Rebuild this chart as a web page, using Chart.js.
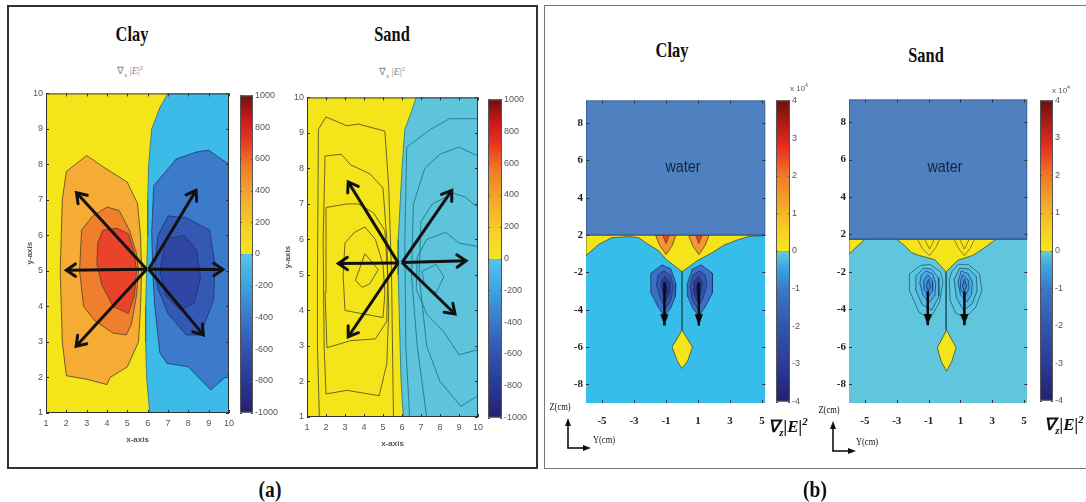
<!DOCTYPE html>
<html>
<head>
<meta charset="utf-8">
<script src="https://cdn.jsdelivr.net/npm/chart.js@4.4.0/dist/chart.umd.min.js"></script>
<style>
html, body { margin: 0; padding: 0; background: #fff; }
#page { position: relative; width: 1086px; height: 502px; overflow: hidden; font-family: 'Liberation Serif', serif; }
canvas { position: absolute; }
.t { position: absolute; transform: translate(-50%, -50%); white-space: nowrap; line-height: 1; }
.title { font-weight: bold; font-size: 21px; color: #111; transform: translate(-50%, -50%) scaleX(.78); }
.sub { font-size: 10px; color: #888; }
.lab { font-weight: bold; font-size: 23px; color: #111; transform: translate(-50%, -50%) scaleX(.85); }
.water { font-family: 'Liberation Sans', sans-serif; font-size: 16px; color: #17243d; transform: translate(-50%, -50%) scaleX(.9); }
.exp { font-family: 'Liberation Sans Narrow', 'Liberation Sans', sans-serif; font-size: 8px; color: #555; }
.grad { font-weight: bold; font-style: italic; font-size: 17px; color: #111; }
.ax { font-size: 10px; color: #111; transform: translate(-50%, -50%) scaleX(.85); }
.box { position: absolute; box-sizing: border-box; }
sub, sup { font-size: 65%; }
svg { position: absolute; }
</style>
</head>
<body>
<div id="page">
  <div class="box" style="left:7px;top:5px;width:531px;height:464px;border:2px solid #333;"></div>
  <div class="box" style="left:544px;top:5px;width:560px;height:464px;border:1px solid #777;"></div>

  <div class="t title" style="left:132px;top:34px;">Clay</div>
  <div class="t sub" style="left:130px;top:72px;">&nabla;<sub>x</sub> |<i>E</i>|<sup>2</sup></div>
  <div class="t title" style="left:392px;top:34px;">Sand</div>
  <div class="t sub" style="left:392px;top:73px;">&nabla;<sub>x</sub> |<i>E</i>|<sup>2</sup></div>

  <div class="t title" style="left:672px;top:50px;">Clay</div>
  <div class="t title" style="left:926px;top:55px;">Sand</div>

  <canvas id="clayA" width="229" height="360" style="left:10px;top:85px;"></canvas>
  <canvas id="clayAbar" width="50" height="332" style="left:240px;top:88px;"></canvas>
  <canvas id="sandA" width="217" height="360" style="left:271px;top:89px;"></canvas>
  <canvas id="sandAbar" width="50" height="333" style="left:488px;top:92px;"></canvas>
  <canvas id="clayB" width="217" height="342" style="left:560px;top:91px;"></canvas>
  <canvas id="clayBbar" width="36" height="316" style="left:776px;top:93px;"></canvas>
  <canvas id="sandB" width="216" height="343" style="left:823px;top:90px;"></canvas>
  <canvas id="sandBbar" width="40" height="315" style="left:1040px;top:93px;"></canvas>

  <div class="t water" style="left:683px;top:167px;">water</div>
  <div class="t water" style="left:945px;top:167px;">water</div>

  <div class="t exp" style="left:799px;top:88px;">x 10<sup>4</sup></div>
  <div class="t exp" style="left:1061px;top:90px;">x 10<sup>4</sup></div>
  <div class="t grad" style="left:788px;top:427px;">&nabla;<sub>z</sub>|E|<sup>2</sup></div>
  <div class="t grad" style="left:1064px;top:425px;">&nabla;<sub>z</sub>|E|<sup>2</sup></div>

  <div class="t ax" style="left:560px;top:407px;">Z(cm)</div>
  <div class="t ax" style="left:604px;top:440px;">Y(cm)</div>
  <svg style="left:560px;top:415px;" width="40" height="40">
    <line x1="8" y1="9" x2="8" y2="33" stroke="#111" stroke-width="1.6"/>
    <polygon points="8,3 5,11 11,11" fill="#111"/>
    <line x1="7.2" y1="33" x2="25" y2="33" stroke="#111" stroke-width="1.6"/>
    <polygon points="31,33 23,30 23,36" fill="#111"/>
  </svg>
  <div class="t ax" style="left:829px;top:410px;">Z(cm)</div>
  <div class="t ax" style="left:867px;top:442px;">Y(cm)</div>
  <svg style="left:825px;top:418px;" width="40" height="40">
    <line x1="8" y1="9" x2="8" y2="33" stroke="#111" stroke-width="1.6"/>
    <polygon points="8,3 5,11 11,11" fill="#111"/>
    <line x1="7.2" y1="33" x2="25" y2="33" stroke="#111" stroke-width="1.6"/>
    <polygon points="31,33 23,30 23,36" fill="#111"/>
  </svg>

  <div class="t lab" style="left:270px;top:489px;">(a)</div>
  <div class="t lab" style="left:815px;top:489px;">(b)</div>
</div>

<script>
// ---------------- data ----------------
// panel (a) axes
const ticksA = [1, 2, 3, 4, 5, 6, 7, 8, 9, 10];
const colorbarTicksA = [1000, 800, 600, 400, 200, 0, -200, -400, -600, -800, -1000];

// panel (b) axes
const xTicksB = [-5, -3, -1, 1, 3, 5];
const yTickValuesB = [-8, -6, -4, -2, 0, 2, 4, 6];
const yTickLabelsB = ['-8', '-6', '-4', '-2', '2', '4', '6', '8'];
const colorbarTicksB = [4, 3, 2, 1, 0, -1, -2, -3, -4];

// Clay (a) contour levels, [x, y]
const clayA_all = [[1, 1], [10, 1], [10, 10], [1, 10]];
const clayA_neg0 = [[7.0, 10], [6.6, 9.6], [6.2, 9.0], [6.05, 8.0], [6.0, 7.0], [6.0, 6.0], [5.95, 5.0], [5.9, 4.0], [5.9, 3.0], [5.95, 2.0], [6.1, 1.0], [10, 1], [10, 10]];
const clayA_pos200 = [[3.0, 8.25], [3.9, 7.9], [5.0, 7.5], [5.5, 6.9], [5.65, 6.0], [5.7, 5.0], [5.65, 4.0], [5.55, 3.0], [5.0, 2.3], [4.15, 2.0], [4.0, 1.8], [3.0, 1.95], [2.0, 2.05], [1.8, 3.0], [1.7, 5.0], [1.8, 7.0], [2.0, 7.8]];
const clayA_pos400 = [[3.3, 6.55], [4.0, 6.8], [4.6, 6.7], [5.1, 6.15], [5.45, 5.5], [5.55, 5.0], [5.45, 4.3], [5.2, 3.5], [4.95, 3.2], [4.3, 3.25], [3.4, 3.6], [2.85, 4.0], [2.65, 5.0], [2.75, 6.15]];
const clayA_pos600 = [[3.8, 6.15], [4.5, 6.2], [5.05, 6.05], [5.35, 5.5], [5.45, 5.0], [5.35, 4.3], [5.05, 3.8], [4.3, 4.0], [3.75, 4.6], [3.5, 5.2], [3.55, 5.8]];
const clayA_neg200 = [[6.3, 7.4], [7.4, 8.15], [8.4, 8.35], [9.0, 8.4], [10, 8.0], [10, 2.1], [9.1, 1.65], [8.0, 2.3], [6.95, 2.4], [6.6, 2.7], [6.35, 4.0], [6.25, 5.0], [6.2, 6.1]];
const clayA_neg400 = [[7.0, 6.55], [7.9, 6.5], [9.05, 6.15], [9.3, 5.2], [9.25, 4.2], [8.6, 3.2], [7.9, 3.2], [7.0, 3.8], [6.5, 4.5], [6.35, 5.1], [6.5, 6.0]];
const clayA_neg600 = [[6.9, 5.9], [7.8, 6.0], [8.4, 5.6], [8.6, 4.8], [8.3, 4.1], [7.6, 3.9], [6.9, 4.3], [6.6, 5.0]];
const clayA_arrows = [
  [[5.95, 5.05], [2.0, 5.02]], [[5.95, 5.05], [2.5, 7.2]], [[5.95, 5.05], [2.48, 2.88]],
  [[6.05, 5.05], [9.7, 5.04]], [[6.05, 5.05], [8.38, 7.27]], [[6.05, 5.05], [8.74, 3.2]]
];

// Sand (a) contour lines, [x, y]
const sandA_all = [[1, 1], [10, 1], [10, 10], [1, 10]];
const sandA_neg0 = [[6.75, 10], [6.5, 9.6], [6.15, 9.1], [6.0, 8.0], [5.9, 7.0], [5.8, 6.0], [5.8, 5.0], [5.85, 4.0], [5.9, 3.0], [5.95, 2.0], [6.07, 1.0], [10, 1], [10, 10]];
const sandA_posLine1 = [[1.65, 1.0], [1.55, 3.0], [1.55, 5.0], [1.6, 9.1], [2.0, 9.45], [3.1, 9.2], [3.7, 9.25], [5.1, 9.05], [5.3, 7.5], [5.45, 5.0], [5.5, 3.0], [5.55, 1.0]];
const sandA_posLine2 = [[1.95, 8.35], [2.8, 8.4], [3.3, 8.1], [4.3, 7.85], [5.0, 7.45], [5.2, 6.0], [5.3, 4.0], [5.2, 2.5], [4.8, 1.6], [3.1, 1.75], [2.0, 1.65], [1.9, 3.0], [1.85, 6.0], [1.95, 8.35]];
const sandA_posLine3 = [[2.0, 6.9], [3.1, 7.0], [3.7, 7.0], [4.5, 6.75], [5.1, 6.25], [5.25, 5.0], [5.2, 3.7], [4.6, 3.2], [3.3, 3.15], [2.05, 2.95], [1.95, 4.5], [2.0, 6.9]];
const sandA_posLine4 = [[3.0, 5.9], [3.5, 6.2], [4.05, 6.35], [4.6, 6.0], [5.0, 5.3], [5.1, 4.5], [5.0, 3.8], [4.0, 3.9], [3.0, 4.0], [2.9, 5.0], [3.0, 5.9]];
const sandA_posLine5 = [[3.55, 4.85], [4.05, 5.6], [4.75, 5.15], [4.3, 4.75], [3.9, 4.65], [3.55, 4.85]];
const sandA_negLine1 = [[6.4, 1.0], [6.2, 3.0], [6.15, 6.0], [6.25, 8.6], [7.5, 9.1], [8.5, 9.4], [10, 9.4]];
const sandA_negLine2 = [[7.3, 1.0], [6.8, 3.0], [6.5, 5.0], [6.6, 7.0], [7.2, 8.0], [8.0, 8.4], [9.0, 8.6], [10, 8.35]];
const sandA_negLine3 = [[10, 1.6], [9.1, 1.3], [8.0, 2.0], [7.3, 3.0], [6.9, 5.0], [7.0, 6.5], [7.6, 7.0], [8.7, 7.3], [9.3, 7.2], [10, 6.9]];
const sandA_negLine4 = [[10, 2.9], [9.0, 2.75], [8.2, 3.4], [7.3, 3.9], [6.75, 4.6], [6.8, 5.5], [7.3, 6.0], [8.3, 6.2], [9.0, 5.9], [10, 5.8]];
const sandA_negLine5 = [[7.05, 5.1], [7.8, 5.3], [8.2, 4.95], [7.8, 4.5], [7.2, 4.7], [7.05, 5.1]];
const sandA_arrows = [
  [[5.8, 5.34], [2.65, 5.32]], [[5.8, 5.34], [3.17, 7.62]], [[5.8, 5.34], [3.17, 3.26]],
  [[6.0, 5.35], [9.37, 5.4]], [[6.0, 5.35], [8.62, 7.38]], [[6.0, 5.35], [8.79, 3.9]]
];

// Clay (b) regions, [y, z]
const clayB_soil = [[-6, -9], [5.2, -9], [5.2, 0], [-6, 0]];
const clayB_pos0 = [[-6, 0], [5.2, 0], [5.2, -0.03], [4.2, -0.08], [3.5, -0.25], [2.6, -0.55], [1.86, -0.96], [1.0, -1.35], [0, -1.97], [-1.0, -1.3], [-1.45, -0.85], [-2.2, -0.45], [-2.7, -0.15], [-3.3, -0.08], [-4.4, -0.15], [-5.2, -0.5], [-6, -1.1]];
const clayB_pos1L = [[-1.65, -0.02], [-0.4, -0.02], [-0.6, -0.55], [-1.0, -1.05], [-1.4, -0.55]];
const clayB_pos2L = [[-1.2, -0.02], [-0.8, -0.02], [-1.0, -0.45]];
const clayB_pos1R = [[0.42, -0.02], [1.68, -0.02], [1.45, -0.55], [1.05, -1.05], [0.65, -0.55]];
const clayB_pos2R = [[0.85, -0.02], [1.25, -0.02], [1.05, -0.45]];
const clayB_neg1L = [[-1.25, -1.6], [-0.7, -1.82], [-0.38, -2.6], [-0.42, -3.3], [-0.7, -3.9], [-1.1, -4.35], [-1.5, -3.85], [-1.95, -3.1], [-1.95, -2.05]];
const clayB_neg2L = [[-1.15, -1.92], [-0.72, -2.15], [-0.55, -2.75], [-0.68, -3.45], [-1.02, -3.95], [-1.35, -3.4], [-1.6, -2.7], [-1.5, -2.15]];
const clayB_neg3L = [[-1.08, -2.2], [-0.8, -2.5], [-0.76, -3.1], [-1.0, -3.55], [-1.25, -3.05], [-1.32, -2.55]];
const clayB_neg4L = [[-1.02, -2.45], [-0.9, -2.95], [-1.02, -3.35], [-1.14, -2.95]];
const clayB_neg1R = [[1.2, -1.6], [1.9, -2.05], [1.9, -3.1], [1.45, -3.85], [1.05, -4.35], [0.65, -3.9], [0.37, -3.3], [0.33, -2.6], [0.65, -1.82]];
const clayB_neg2R = [[1.1, -1.92], [1.45, -2.15], [1.55, -2.7], [1.3, -3.4], [0.97, -3.95], [0.63, -3.45], [0.5, -2.75], [0.67, -2.15]];
const clayB_neg3R = [[1.03, -2.2], [1.27, -2.55], [1.2, -3.05], [0.95, -3.55], [0.71, -3.1], [0.75, -2.5]];
const clayB_neg4R = [[0.97, -2.45], [1.09, -2.95], [0.97, -3.35], [0.85, -2.95]];
const clayB_stem = [[0, -1.97], [0, -5.1]];
const clayB_diamond = [[0, -5.1], [0.65, -6.0], [0.35, -6.75], [0, -7.15], [-0.3, -6.75], [-0.62, -6.0]];
const clayB_water = [[-6, 0], [5.2, 0], [5.2, 7.2], [-6, 7.2]];
const clayB_arrows = [[[-1.1, -2.55], [-1.1, -4.85]], [[1.05, -2.55], [1.05, -4.85]]];

// Sand (b) regions, [y, z]
const sandB_soil = [[-6, -9], [5.2, -9], [5.2, 0], [-6, 0]];
const sandB_pos0Edge = [[-6, -0.25], [-5.0, -0.25], [-5.5, -0.65], [-6, -1.05]];
const sandB_pos0 = [[-3.0, -0.25], [3.25, -0.25], [2.4, -0.78], [1.77, -1.12], [0.83, -1.38], [0.1, -2.0], [-0.6, -1.35], [-1.56, -1.13], [-2.08, -0.96], [-2.5, -0.6]];
const sandB_posLine1L = [[-1.7, -0.25], [-1.4, -0.75], [-0.94, -1.13], [-0.55, -0.7], [-0.3, -0.25]];
const sandB_posLine2L = [[-1.25, -0.25], [-0.94, -0.78], [-0.63, -0.25]];
const sandB_posLine1R = [[0.6, -0.25], [0.85, -0.7], [1.25, -1.13], [1.6, -0.75], [1.9, -0.25]];
const sandB_posLine2R = [[0.95, -0.25], [1.25, -0.78], [1.55, -0.25]];
const sandB_neg1L = [[-1.5, -1.65], [-0.9, -1.6], [-0.25, -2.0], [-0.1, -2.5], [-0.3, -3.6], [-0.9, -4.5], [-1.6, -4.15], [-2.2, -3.0], [-2.2, -2.1]];
const sandB_neg2L = [[-1.3, -1.8], [-0.8, -1.85], [-0.4, -2.3], [-0.35, -3.3], [-0.8, -4.05], [-1.4, -3.75], [-1.85, -2.9], [-1.8, -2.2]];
const sandB_neg3L = [[-1.15, -1.95], [-0.75, -2.1], [-0.55, -2.6], [-0.6, -3.25], [-0.95, -3.65], [-1.35, -3.25], [-1.55, -2.6], [-1.45, -2.15]];
const sandB_neg4L = [[-1.05, -2.15], [-0.75, -2.5], [-0.75, -3.0], [-1.0, -3.3], [-1.3, -2.9], [-1.3, -2.45]];
const sandB_neg5L = [[-1.0, -2.4], [-0.88, -2.75], [-1.0, -3.05], [-1.15, -2.75]];
const sandB_neg1R = [[0.85, -1.6], [1.5, -1.6], [2.2, -2.1], [2.35, -3.0], [1.95, -3.9], [1.3, -4.45], [0.7, -4.2], [0.35, -3.5], [0.3, -2.4], [0.45, -2.0]];
const sandB_neg2R = [[0.95, -1.8], [1.55, -1.85], [2.0, -2.25], [2.05, -3.0], [1.75, -3.7], [1.2, -4.05], [0.75, -3.4], [0.6, -2.4]];
const sandB_neg3R = [[1.05, -1.95], [1.5, -2.1], [1.75, -2.55], [1.7, -3.2], [1.4, -3.6], [1.0, -3.2], [0.85, -2.55]];
const sandB_neg4R = [[1.15, -2.15], [1.5, -2.45], [1.55, -2.9], [1.3, -3.3], [1.0, -2.95], [1.0, -2.45]];
const sandB_neg5R = [[1.25, -2.4], [1.4, -2.75], [1.25, -3.05], [1.12, -2.75]];
const sandB_stem = [[0.1, -2.0], [0.1, -5.1]];
const sandB_diamond = [[0.13, -5.1], [0.73, -6.05], [0.45, -6.8], [0.13, -7.3], [-0.2, -6.8], [-0.45, -6.05]];
const sandB_water = [[-6, -0.25], [5.2, -0.25], [5.2, 7.2], [-6, 7.2]];
const sandB_arrows = [[[-1.05, -3.05], [-1.05, -4.85]], [[1.25, -3.05], [1.25, -4.85]]];

// ---------------- styles ----------------
const cmapA = [[0, '#261f6e'], [0.1, '#2b3898'], [0.2, '#3053b0'], [0.3, '#3a78cc'], [0.4, '#3ca2e2'], [0.5, '#55c6ea'],
  [0.5, '#f5e61c'], [0.58, '#f6d224'], [0.68, '#f5a82e'], [0.78, '#f07a28'], [0.86, '#e8361e'], [0.93, '#c81818'], [1, '#6e1010']];
const cmapB = [[0, '#24206e'], [0.12, '#2d3a98'], [0.25, '#3256ae'], [0.37, '#3a78c8'], [0.45, '#3ca8e2'], [0.49, '#62c6d6'], [0.5, '#68c9d4'],
  [0.5, '#f5e71c'], [0.57, '#f7d022'], [0.65, '#f5a82c'], [0.75, '#f07a26'], [0.85, '#e82a1e'], [1, '#6a1010']];

const tickFontA = { family: "'Liberation Sans Narrow', 'Liberation Sans', sans-serif", size: 9 };
const tickFontB = { family: "'Liberation Serif', serif", size: 11, weight: 'bold' };
const noGrid = { display: false, drawTicks: false, tickLength: 0 };

// ---------------- plugins ----------------
const framePlugin = {
  id: 'frame',
  afterDatasetsDraw(chart, args, opts) {
    const { ctx, chartArea: a } = chart;
    ctx.save();
    ctx.strokeStyle = opts.color || '#333';
    if (opts.width) {
      ctx.lineWidth = opts.width;
      ctx.strokeRect(a.left + 0.5, a.top + 0.5, a.right - a.left - 1, a.bottom - a.top - 1);
    }
    ctx.lineWidth = 1;
    const len = opts.tickLen || 3;
    ctx.beginPath();
    if (opts.xTicks) {
      chart.scales.x.ticks.forEach(t => {
        const px = Math.round(chart.scales.x.getPixelForValue(t.value)) + 0.5;
        ctx.moveTo(px, a.bottom); ctx.lineTo(px, a.bottom - len);
        ctx.moveTo(px, a.top); ctx.lineTo(px, a.top + len);
      });
    }
    if (opts.yTicks) {
      chart.scales.y.ticks.forEach(t => {
        const py = Math.round(chart.scales.y.getPixelForValue(t.value)) + 0.5;
        ctx.moveTo(a.left, py); ctx.lineTo(a.left + len, py);
        ctx.moveTo(a.right, py); ctx.lineTo(a.right - len, py);
      });
    }
    ctx.stroke();
    ctx.restore();
  }
};

const arrowPlugin = {
  id: 'arrowHeads',
  afterDatasetsDraw(chart) {
    const ctx = chart.ctx;
    chart.data.datasets.forEach((ds, i) => {
      if (!ds.arrow) return;
      const pts = chart.getDatasetMeta(i).data;
      const p = pts[pts.length - 2], q = pts[pts.length - 1];
      const ang = Math.atan2(q.y - p.y, q.x - p.x);
      const L = ds.arrow.size, w = ds.arrow.spread;
      ctx.save();
      ctx.strokeStyle = ctx.fillStyle = ds.borderColor;
      ctx.lineWidth = ds.borderWidth;
      ctx.lineCap = 'round';
      ctx.lineJoin = 'miter';
      ctx.beginPath();
      ctx.moveTo(q.x - L * Math.cos(ang - w), q.y - L * Math.sin(ang - w));
      ctx.lineTo(q.x, q.y);
      ctx.lineTo(q.x - L * Math.cos(ang + w), q.y - L * Math.sin(ang + w));
      if (ds.arrow.filled) { ctx.closePath(); ctx.fill(); } else ctx.stroke();
      ctx.restore();
    });
  }
};

// ---------------- builders ----------------
const toXY = (arr, closed) => (closed ? arr.concat([arr[0]]) : arr).map(([x, y]) => ({ x, y }));

function contourChart(id, cfg) {
  const n = cfg.layers.length;
  const datasets = cfg.layers.map((l, i) => ({
    data: toXY(l.data, l.closed !== false && !l.arrow),
    fill: l.fill ? 'shape' : false,
    backgroundColor: l.fill || 'rgba(0,0,0,0)',
    borderColor: l.line || 'rgba(0,0,0,0)',
    borderWidth: l.line ? (l.width || 0.8) : 1,
    pointRadius: 0,
    tension: 0,
    order: n - i,
    arrow: l.arrow
  }));
  new Chart(document.getElementById(id), {
    type: 'line',
    data: { datasets },
    options: {
      responsive: false, animation: false, events: [],
      layout: { padding: { top: 8, right: 10, left: 0, bottom: 0 } },
      plugins: { legend: { display: false }, tooltip: { enabled: false }, frame: cfg.frame },
      scales: {
        x: {
          type: 'linear', min: cfg.xMin, max: cfg.xMax,
          grid: noGrid, border: { display: false },
          afterBuildTicks: s => { s.ticks = cfg.xTicks.map(v => ({ value: v })); },
          afterFit: s => { s.height = cfg.xAxisHeight; },
          ticks: { font: cfg.tickFont, color: cfg.tickColor, padding: cfg.xPad, autoSkip: false, maxRotation: 0,
            callback: v => String(v) },
          title: cfg.xTitle ? { display: true, text: cfg.xTitle, font: { size: 8, weight: 'bold' }, color: '#555', padding: { top: 0, bottom: 0 } } : { display: false }
        },
        y: {
          type: 'linear', min: cfg.yMin, max: cfg.yMax,
          grid: noGrid, border: { display: false },
          afterBuildTicks: s => { s.ticks = cfg.yTicks.map(v => ({ value: v })); },
          afterFit: s => { s.width = cfg.yAxisWidth; },
          ticks: { font: cfg.tickFont, color: cfg.tickColor, padding: 3, autoSkip: false,
            callback: (v, i) => cfg.yLabels ? cfg.yLabels[i] : String(v) },
          title: cfg.yTitle ? { display: true, text: cfg.yTitle, font: { size: 8, weight: 'bold' }, color: '#555', padding: { top: cfg.yTitlePad, bottom: 0 } } : { display: false }
        }
      }
    },
    plugins: [framePlugin, arrowPlugin]
  });
}

function colorbar(id, cfg) {
  new Chart(document.getElementById(id), {
    type: 'bar',
    data: {
      labels: [''],
      datasets: [{
        data: [[cfg.ticks[cfg.ticks.length - 1], cfg.ticks[0]]],
        backgroundColor: c => {
          const a = c.chart.chartArea;
          if (!a) return '#888';
          const g = c.chart.ctx.createLinearGradient(0, a.bottom, 0, a.top);
          cfg.stops.forEach(([o, col]) => g.addColorStop(o, col));
          return g;
        },
        borderWidth: 0, barPercentage: 1, categoryPercentage: 1
      }]
    },
    options: {
      responsive: false, animation: false, events: [],
      layout: { padding: { top: 5, bottom: 5, left: 0, right: 0 } },
      plugins: { legend: { display: false }, tooltip: { enabled: false }, frame: { color: '#555', width: 1, yTicks: true, tickLen: 2 } },
      scales: {
        x: { display: false },
        y: {
          position: 'right', min: cfg.ticks[cfg.ticks.length - 1], max: cfg.ticks[0],
          grid: noGrid, border: { display: false },
          afterBuildTicks: s => { s.ticks = cfg.ticks.map(v => ({ value: v })); },
          afterFit: s => { s.width = cfg.axisWidth; },
          ticks: { font: tickFontA, color: '#555', padding: 2, autoSkip: false, callback: v => String(v) }
        }
      }
    },
    plugins: [framePlugin]
  });
}

// ---------------- charts ----------------
const darkLine = '#4a4424', blueLine = '#1c3566';

contourChart('clayA', {
  xMin: 1, xMax: 10, yMin: 1, yMax: 10, xTicks: ticksA, yTicks: ticksA,
  xAxisHeight: 32, yAxisWidth: 36, xPad: 5, yTitlePad: 15,
  tickFont: tickFontA, tickColor: '#555', xTitle: 'x-axis', yTitle: 'y-axis',
  frame: { color: '#333', width: 1, xTicks: true, yTicks: true },
  layers: [
    { data: clayA_all, fill: '#f4e51b' },
    { data: clayA_neg0, fill: '#3dbbe8', line: '#2a6c80' },
    { data: clayA_pos200, fill: '#f6ab35', line: darkLine },
    { data: clayA_pos400, fill: '#ef7f2c', line: darkLine },
    { data: clayA_pos600, fill: '#e9432a', line: darkLine },
    { data: clayA_neg200, fill: '#3c7bcc', line: blueLine },
    { data: clayA_neg400, fill: '#3459b4', line: blueLine },
    { data: clayA_neg600, fill: '#2f46a4', line: blueLine },
    ...clayA_arrows.map(a => ({ data: a, line: '#111', width: 3, arrow: { size: 11, spread: 0.6 } }))
  ]
});

contourChart('sandA', {
  xMin: 1, xMax: 10, yMin: 1, yMax: 10, xTicks: ticksA, yTicks: ticksA,
  xAxisHeight: 32, yAxisWidth: 36, xPad: 5, yTitlePad: 12,
  tickFont: tickFontA, tickColor: '#555', xTitle: 'x-axis', yTitle: 'y-axis',
  frame: { color: '#333', width: 1, xTicks: true, yTicks: true },
  layers: [
    { data: sandA_all, fill: '#f4e51b' },
    { data: sandA_neg0, fill: '#5ec4dc', line: '#1d7484' },
    { data: sandA_posLine1, line: darkLine, closed: false },
    { data: sandA_posLine2, line: darkLine, closed: false },
    { data: sandA_posLine3, line: darkLine, closed: false },
    { data: sandA_posLine4, line: darkLine, closed: false },
    { data: sandA_posLine5, line: darkLine, closed: false },
    { data: sandA_negLine1, line: '#17707e', closed: false },
    { data: sandA_negLine2, line: '#17707e', closed: false },
    { data: sandA_negLine3, line: '#17707e', closed: false },
    { data: sandA_negLine4, line: '#17707e', closed: false },
    { data: sandA_negLine5, line: '#17707e', closed: false },
    ...sandA_arrows.map(a => ({ data: a, line: '#111', width: 3, arrow: { size: 11, spread: 0.6 } }))
  ]
});

contourChart('clayB', {
  xMin: -6, xMax: 5.2, yMin: -9, yMax: 7.2, xTicks: xTicksB, yTicks: yTickValuesB, yLabels: yTickLabelsB,
  xAxisHeight: 30, yAxisWidth: 26, xPad: 12,
  tickFont: tickFontB, tickColor: '#222',
  frame: { color: '#333', width: 0, xTicks: true, yTicks: true },
  layers: [
    { data: clayB_soil, fill: '#37bdea' },
    { data: clayB_pos0, fill: '#f5e41a', line: '#3d4a3a' },
    { data: clayB_pos1L, fill: '#f29632', line: '#5a4020' },
    { data: clayB_pos2L, fill: '#e6452a', line: '#5a4020' },
    { data: clayB_pos1R, fill: '#f29632', line: '#5a4020' },
    { data: clayB_pos2R, fill: '#e6452a', line: '#5a4020' },
    { data: clayB_neg1L, fill: '#3d6fc6', line: blueLine },
    { data: clayB_neg2L, fill: '#3554ae', line: blueLine },
    { data: clayB_neg3L, fill: '#2a3a92', line: blueLine },
    { data: clayB_neg4L, fill: '#1b1f66', line: blueLine },
    { data: clayB_neg1R, fill: '#3d6fc6', line: blueLine },
    { data: clayB_neg2R, fill: '#3554ae', line: blueLine },
    { data: clayB_neg3R, fill: '#2a3a92', line: blueLine },
    { data: clayB_neg4R, fill: '#1b1f66', line: blueLine },
    { data: clayB_stem, line: '#1f6070', width: 1, closed: false },
    { data: clayB_diamond, fill: '#f5e41a', line: '#3d4a3a' },
    { data: clayB_water, fill: '#4f80c0', line: '#2b4a80', width: 1.2 },
    ...clayB_arrows.map(a => ({ data: a, line: '#0a0a0a', width: 2.5, arrow: { size: 12, spread: 0.35, filled: true } }))
  ]
});

contourChart('sandB', {
  xMin: -6, xMax: 5.2, yMin: -9, yMax: 7.2, xTicks: xTicksB, yTicks: yTickValuesB, yLabels: yTickLabelsB,
  xAxisHeight: 30, yAxisWidth: 26, xPad: 12,
  tickFont: tickFontB, tickColor: '#222',
  frame: { color: '#333', width: 0, xTicks: true, yTicks: true },
  layers: [
    { data: sandB_soil, fill: '#5fc6de' },
    { data: sandB_pos0Edge, fill: '#f5e41a', line: '#3d4a3a' },
    { data: sandB_pos0, fill: '#f5e41a', line: '#3d4a3a' },
    { data: sandB_posLine1L, line: '#7a6420', closed: false },
    { data: sandB_posLine2L, line: '#7a6420', closed: false },
    { data: sandB_posLine1R, line: '#7a6420', closed: false },
    { data: sandB_posLine2R, line: '#7a6420', closed: false },
    { data: sandB_neg1L, fill: '#5ec6de', line: '#1d5f78' },
    { data: sandB_neg2L, fill: '#55bbe0', line: '#1d4f78' },
    { data: sandB_neg3L, fill: '#49aae2', line: '#1d4478' },
    { data: sandB_neg4L, fill: '#3e96de', line: '#1d3c70' },
    { data: sandB_neg5L, fill: '#3782d4', line: '#1d3568' },
    { data: sandB_neg1R, fill: '#5ec6de', line: '#1d5f78' },
    { data: sandB_neg2R, fill: '#55bbe0', line: '#1d4f78' },
    { data: sandB_neg3R, fill: '#49aae2', line: '#1d4478' },
    { data: sandB_neg4R, fill: '#3e96de', line: '#1d3c70' },
    { data: sandB_neg5R, fill: '#3782d4', line: '#1d3568' },
    { data: sandB_stem, line: '#1f6070', width: 1, closed: false },
    { data: sandB_diamond, fill: '#f5e41a', line: '#3d4a3a' },
    { data: sandB_water, fill: '#4f80c0', line: '#2b4a80', width: 1.2 },
    ...sandB_arrows.map(a => ({ data: a, line: '#0a0a0a', width: 2.5, arrow: { size: 12, spread: 0.35, filled: true } }))
  ]
});

colorbar('clayAbar', { ticks: colorbarTicksA, stops: cmapA, axisWidth: 37 });
colorbar('sandAbar', { ticks: colorbarTicksA, stops: cmapA, axisWidth: 36 });
colorbar('clayBbar', { ticks: colorbarTicksB, stops: cmapB, axisWidth: 22 });
colorbar('sandBbar', { ticks: colorbarTicksB, stops: cmapB, axisWidth: 27 });
</script>
</body>
</html>
